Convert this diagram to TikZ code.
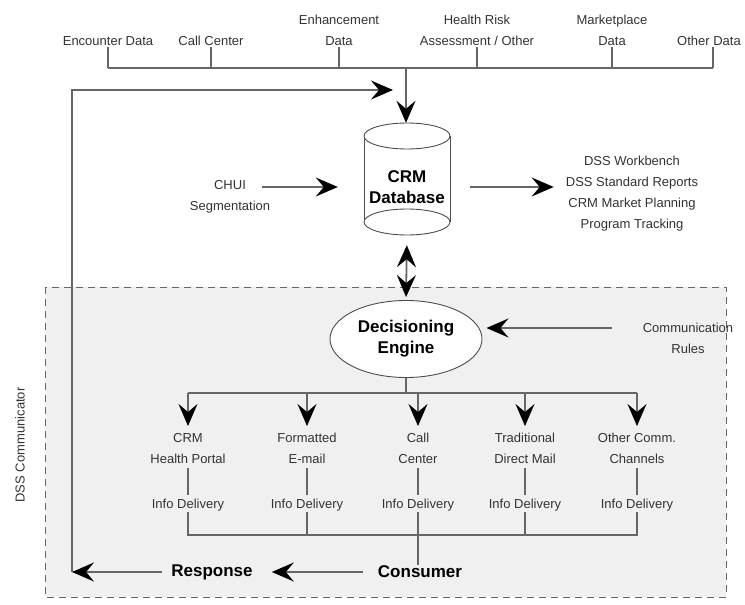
\documentclass[tikz,border=0pt]{standalone}
\usepackage{fontspec}
\setmainfont{Liberation Sans}
\usetikzlibrary{arrows.meta,shapes.geometric}
\begin{document}
\begin{tikzpicture}[x=1pt,y=-1pt,
  lbl/.style={font=\fontsize{13}{21}\selectfont, text=black!80, align=center, inner sep=1pt},
  bld/.style={font=\fontsize{17}{21}\selectfont\bfseries, align=center, inner sep=1pt},
  ln/.style={draw=black!60, line width=1.8pt},
  thinln/.style={draw=black!70, line width=0.9pt},
  tip/.tip={Stealth[length=22pt,width=19pt,inset=8pt,black]},
  arr/.style={ln, -tip},
]
\useasboundingbox (0,0) rectangle (745,605);
\fill[white] (0,0) rectangle (745,605);
% dashed communicator box
\draw[draw=black!60, line width=0.9pt, dash pattern=on 7pt off 5pt, fill=black!6] (45,287) rectangle (726,597);

% top data sources
\node[lbl, anchor=south] (t1) at (108,47) {Encounter Data};
\node[lbl, anchor=south] (t2) at (211,47) {Call Center};
\node[lbl, anchor=south] (t3) at (339,47) {Enhancement\\Data};
\node[lbl, anchor=south] (t4) at (477,47) {Health Risk\\Assessment / Other};
\node[lbl, anchor=south] (t5) at (612,47) {Marketplace\\Data};
\node[lbl, anchor=south] (t6) at (709,47) {Other Data};
\coordinate (bus) at (406,68);
\foreach \t in {t1,t2,t3,t4,t5} \draw[ln] (\t.south) -- (\t.south |- bus);
\coordinate (t6b) at (713,47);
\draw[ln] (t6b) -- (t6b |- bus);
\draw[ln] (t1.south |- bus) -- (t6b |- bus);

% CRM database cylinder
\node[minimum width=86, minimum height=112, inner sep=0] (db) at (407,179) {};
\fill[white] (364,136) rectangle (450,222);
\draw[thinln] (364,136) -- (364,222);
\draw[thinln] (450,136) -- (450,222);
\draw[thinln, fill=white] (407,136) ellipse [x radius=43, y radius=13];
\draw[thinln, fill=white] (407,222) ellipse [x radius=43, y radius=13];
\node[bld] (dbt) at (407,187) {CRM\\Database};
\draw[arr] (bus) -- (bus |- db.north);

\node[lbl] (chui) at (230,197) {CHUI\\Segmentation};
\coordinate (chuia) at (262,187);
\draw[arr, shorten >=26pt] (chuia) -- (chuia -| db.west);

\node[lbl] (dss) at (632,194) {DSS Workbench\\DSS Standard Reports\\CRM Market Planning\\Program Tracking};
\coordinate (dssa) at (450,187);
\draw[arr, shorten <=20pt, shorten >=11pt] (dssa) -- (dssa -| dss.west);

% feedback loop
\coordinate (fb) at (72,572);
\coordinate (fbt) at (72,90);
\coordinate (fbe) at (393,90);
\draw[arr] (fb) -- (fbt) -- (fbe);

% decisioning engine
\node[ellipse, draw=black!70, line width=0.9pt, fill=white, minimum width=152, minimum height=77, inner sep=0, bld] (de) at (406,339) {Decisioning\\Engine};
\draw[ln, tip-tip, shorten <=10pt, shorten >=3pt] (db.south) -- (de.north);

\node[lbl] (cr) at (688,338) {Communication\\Rules};
\coordinate (cra) at (612,328);
\draw[arr, shorten >=4pt] (cra) -- (cra -| de.east);

% channels
\coordinate (br) at (406,393);
\node[lbl, anchor=north] (c1) at (188,432) {CRM\\Health Portal};
\node[lbl, anchor=north] (c2) at (307,432) {Formatted\\E-mail};
\node[lbl, anchor=north] (c3) at (418,432) {Call\\Center};
\node[lbl, anchor=north] (c4) at (525,432) {Traditional\\Direct Mail};
\node[lbl, anchor=north] (c5) at (637,432) {Other Comm.\\Channels};
\draw[ln] (de.south) -- (br);
\draw[ln] (c1.north |- br) -- (c5.north |- br);
\foreach \c in {c1,c2,c3,c4,c5} \draw[arr, shorten >=6pt] (\c.north |- br) -- (\c.north);

\foreach \c/\i/\x in {c1/i1/188,c2/i2/307,c3/i3/418,c4/i4/525,c5/i5/637}{
  \node[lbl] (\i) at (\x,505) {Info Delivery};
  \draw[ln, line width=1.2pt, shorten <=3pt, shorten >=3pt] (\c.south) -- (\i.north);
}
\coordinate (bk) at (418,535);
\draw[ln] (i1.south) -- (i1.south |- bk) -- (i5.south |- bk) -- (i5.south);
\draw[ln] (i2.south) -- (i2.south |- bk);
\draw[ln] (i4.south) -- (i4.south |- bk);

\node[bld] (cons) at (420,572) {Consumer};
\node[bld] (resp) at (212,572) {Response};
\draw[ln] (i3.south) -- (i3.south |- cons.north);
\draw[arr, shorten <=14pt, shorten >=18pt] (cons.west) -- (resp.east);
\draw[arr, shorten <=8pt] (resp.west) -- (fb);

\node[lbl, rotate=90] (dssc) at (20,445) {DSS Communicator};
\end{tikzpicture}
\end{document}
